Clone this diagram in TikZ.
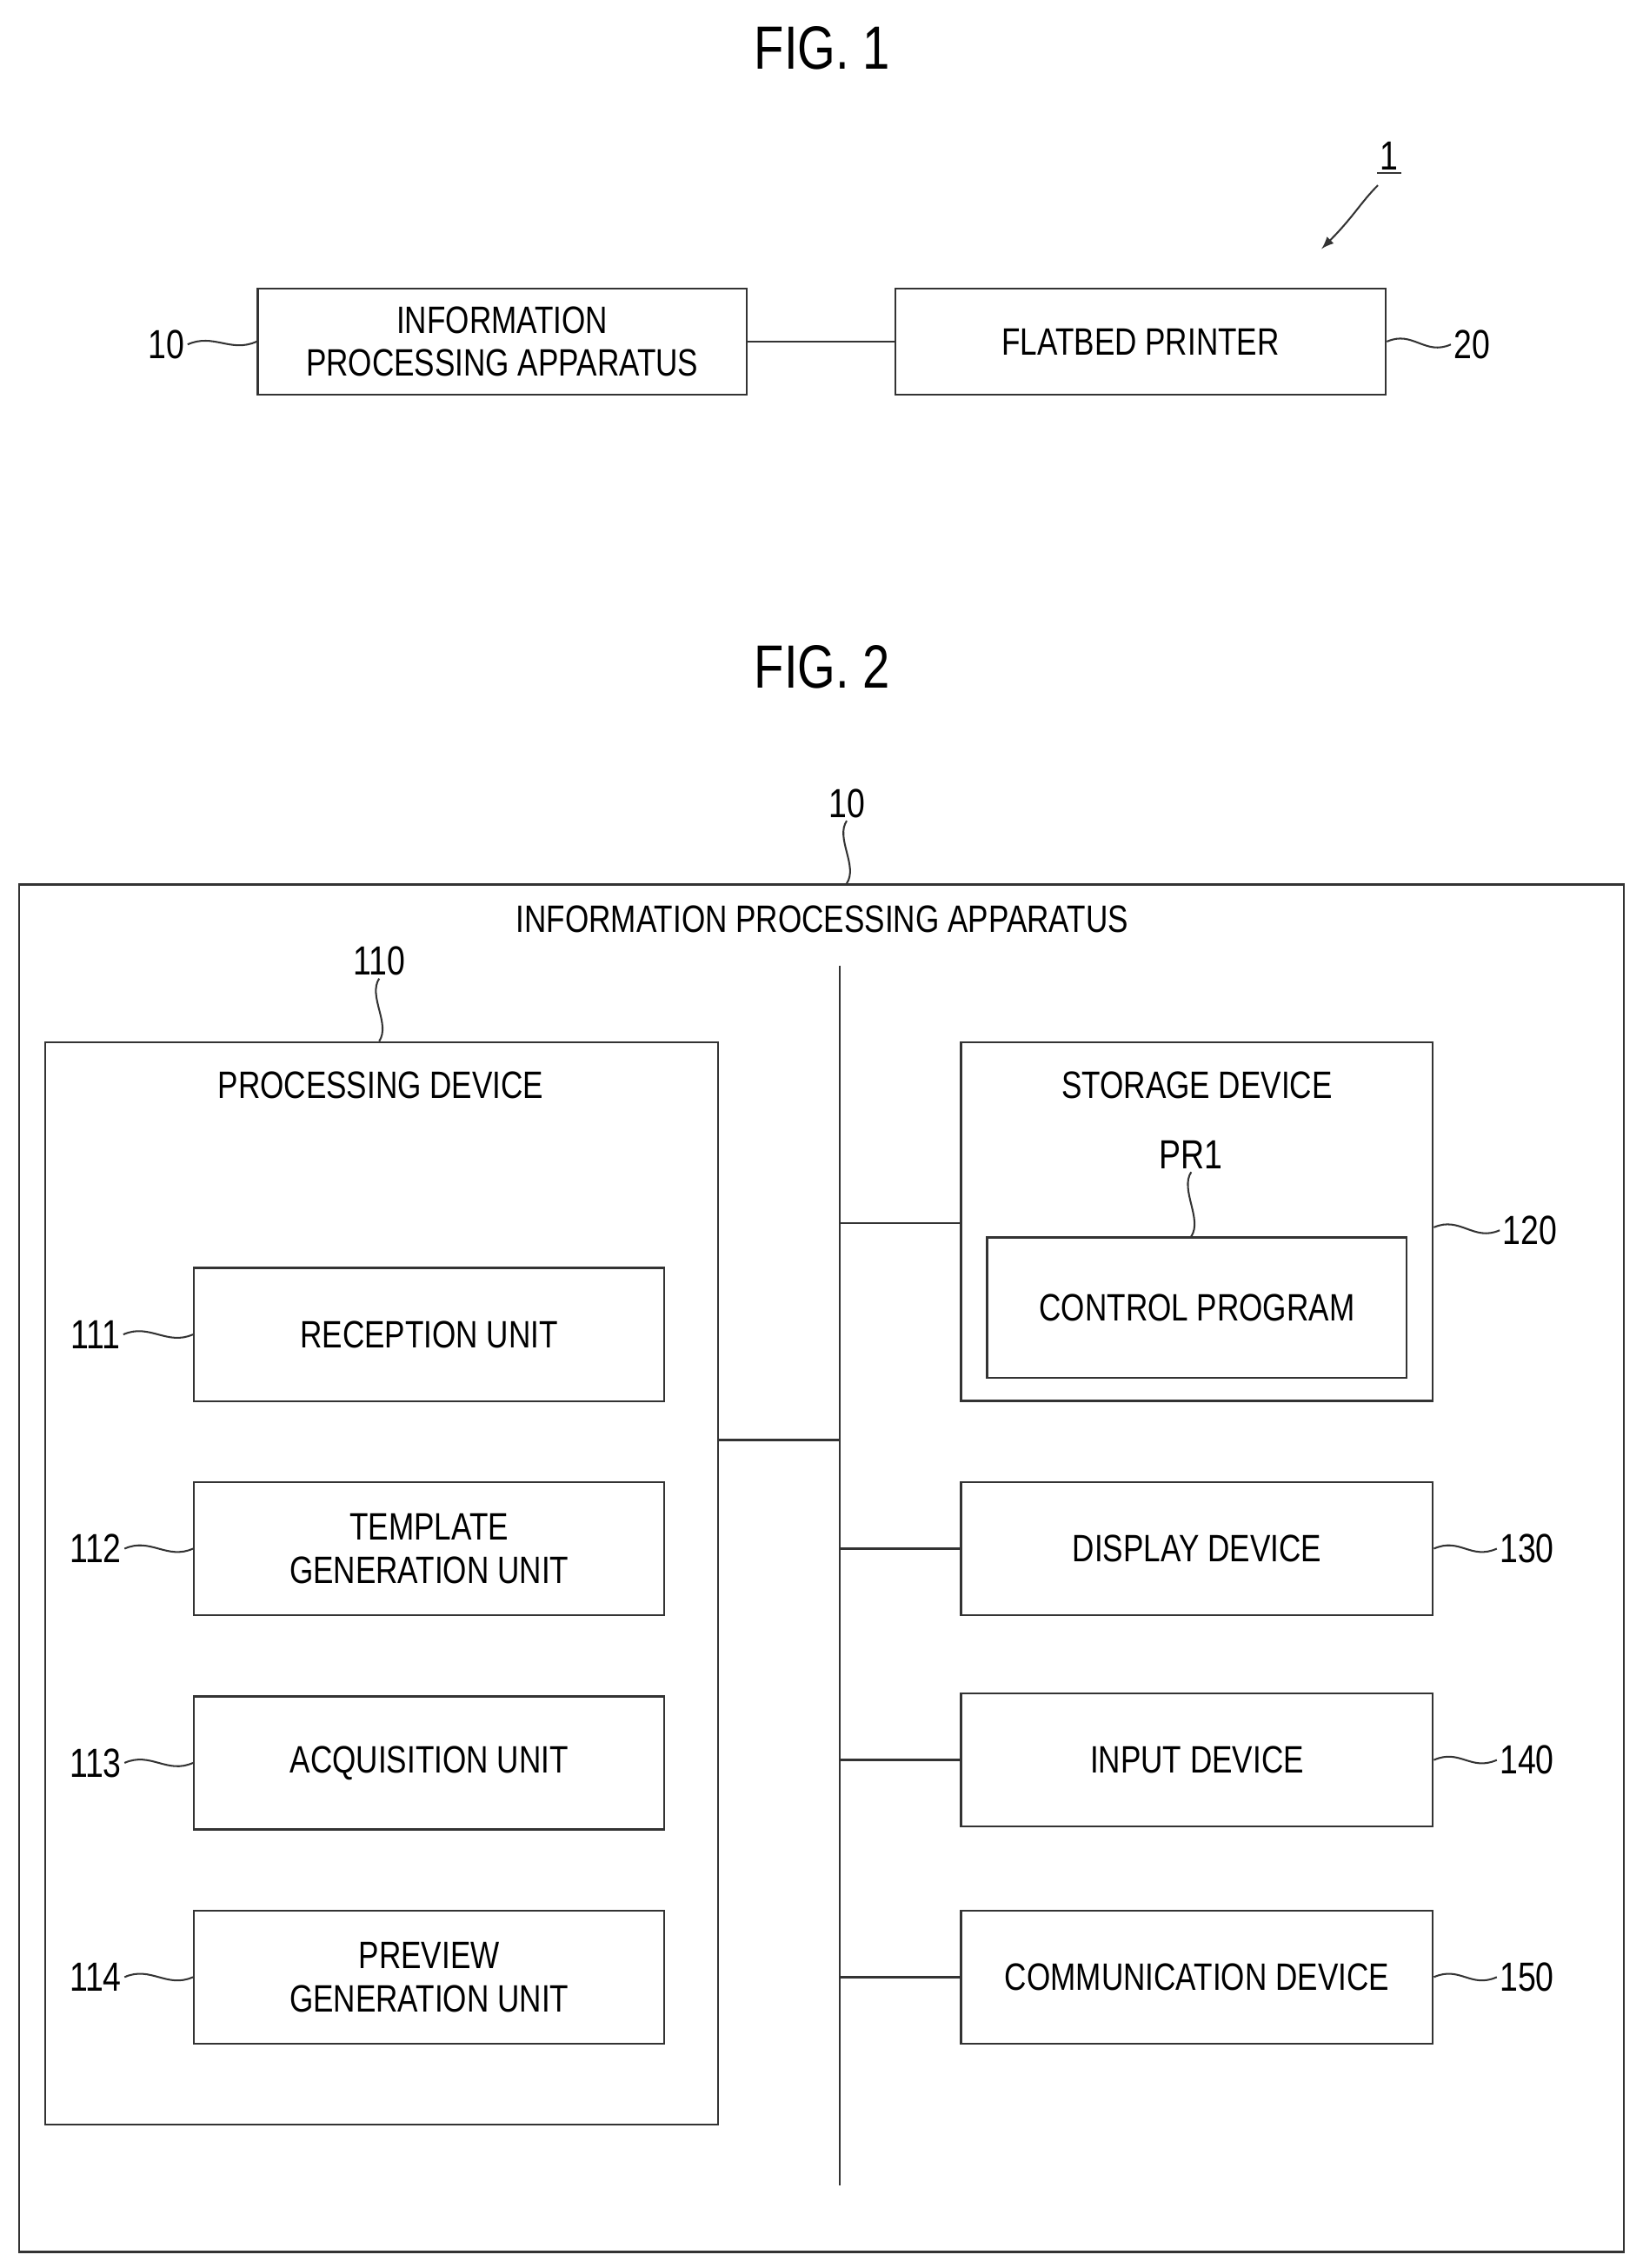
\documentclass[tikz,border=0pt]{standalone}
\usepackage{fontspec}
\setmainfont{Liberation Sans}[FakeStretch=0.8]
\usetikzlibrary{positioning}
\tikzset{
  blk/.style={draw=black!80, line width=0.8pt, inner sep=0pt, align=center, font=\fontsize{15}{17}\selectfont},
  lbl/.style={font=\fontsize{16}{16}\selectfont, inner sep=1pt},
  wire/.style={draw=black!80, line width=0.8pt},
  lead/.style={draw=black!80, line width=0.7pt},
}
\begin{document}
\begin{tikzpicture}[x=0.02cm,y=-0.02cm]
\useasboundingbox (0,0) rectangle (1135,1567);
% FIG. 1
\node[font=\fontsize{24}{24}\selectfont] (fig1) at (568,33) {FIG. 1};
\node[blk, minimum width=6.76cm, minimum height=1.46cm] (ipa) at (347,236) {INFORMATION\\PROCESSING APPARATUS};
\node[blk, minimum width=6.78cm, minimum height=1.46cm] (fbp) at (788,236) {FLATBED PRINTER};
\draw[wire] (ipa) -- (fbp);
\node[lbl] (l10a) at (115,238) {10};
\node[lbl] (l20) at (1017,238) {20};
\draw[lead] (l10a.east) .. controls +(18,-8) and +(-18,8) .. (ipa.west);
\draw[lead] (l20.west) .. controls +(-18,8) and +(18,-8) .. (fbp.east);
\node[lbl] (l1) at (960,108) {1};
\coordinate (a1s) at (952,128);
\coordinate (a1e) at (913,172);
\draw[lead] (l1.south west) -- (l1.south east);
\draw[lead, -latex] (a1s) .. controls (940,140) and (935,150) .. (a1e);
% FIG. 2
\node[font=\fontsize{24}{24}\selectfont] (fig2) at (568,461) {FIG. 2};
\node[blk, minimum width=22.18cm, minimum height=18.9cm] (app) at (567.5,1083.5) {};
\node[blk, draw=none] (appt) at (568,635) {INFORMATION PROCESSING APPARATUS};
\node[lbl] (l10b) at (585,555) {10};
\draw[lead] (l10b.south) .. controls +(-8,12) and +(8,-12) .. (app.north -| l10b);
\coordinate (bt) at (580,667);
\coordinate (bb) at (580,1510);
\draw[wire] (bt) -- (bb);
% processing device
\node[blk, minimum width=9.3cm, minimum height=14.96cm] (proc) at (263.5,1094) {};
\node[blk, draw=none] (proct) at (263,750) {PROCESSING DEVICE};
\node[lbl] (l110) at (262,664) {110};
\draw[lead] (l110.south) .. controls +(-8,12) and +(8,-12) .. (proc.north -| l110);
\foreach \n/\y/\t in {111/922/RECEPTION UNIT, 112/1070/TEMPLATE\\GENERATION UNIT, 113/1218/ACQUISITION UNIT, 114/1366/PREVIEW\\GENERATION UNIT}{
  \node[blk, minimum width=6.5cm, minimum height=1.84cm] (u\n) at (296.5,\y) {\t};
  \node[lbl] (l\n) at (66,\y) {\n};
  \draw[lead] (l\n.east) .. controls +(18,-8) and +(-18,8) .. (u\n.west);
}
\draw[wire] (proc.east |- 0,995) -- (580,995);
% right side
\node[blk, minimum width=6.52cm, minimum height=4.96cm] (stor) at (827,844) {};
\node[blk, draw=none] (stort) at (827,750) {STORAGE DEVICE};
\node[blk, minimum width=5.8cm, minimum height=1.94cm] (prog) at (827,903.5) {CONTROL PROGRAM};
\node[lbl] (lpr) at (823,798) {PR1};
\draw[lead] (lpr.south) .. controls +(-8,12) and +(8,-12) .. (prog.north -| lpr);
\node[lbl] (l120) at (1057,850) {120};
\draw[lead] (l120.west) .. controls +(-18,8) and +(18,-8) .. (stor.east |- 0,848);
\draw[wire] (580,845) -- (stor.west |- 0,845);
\foreach \n/\y/\t in {130/1070/DISPLAY DEVICE, 140/1216/INPUT DEVICE, 150/1366/COMMUNICATION DEVICE}{
  \node[blk, minimum width=6.52cm, minimum height=1.84cm] (d\n) at (827,\y) {\t};
  \node[lbl] (l\n) at (1055,\y) {\n};
  \draw[lead] (l\n.west) .. controls +(-18,8) and +(18,-8) .. (d\n.east);
  \draw[wire] (580,\y) -- (d\n.west);
}
\end{tikzpicture}
\end{document}
